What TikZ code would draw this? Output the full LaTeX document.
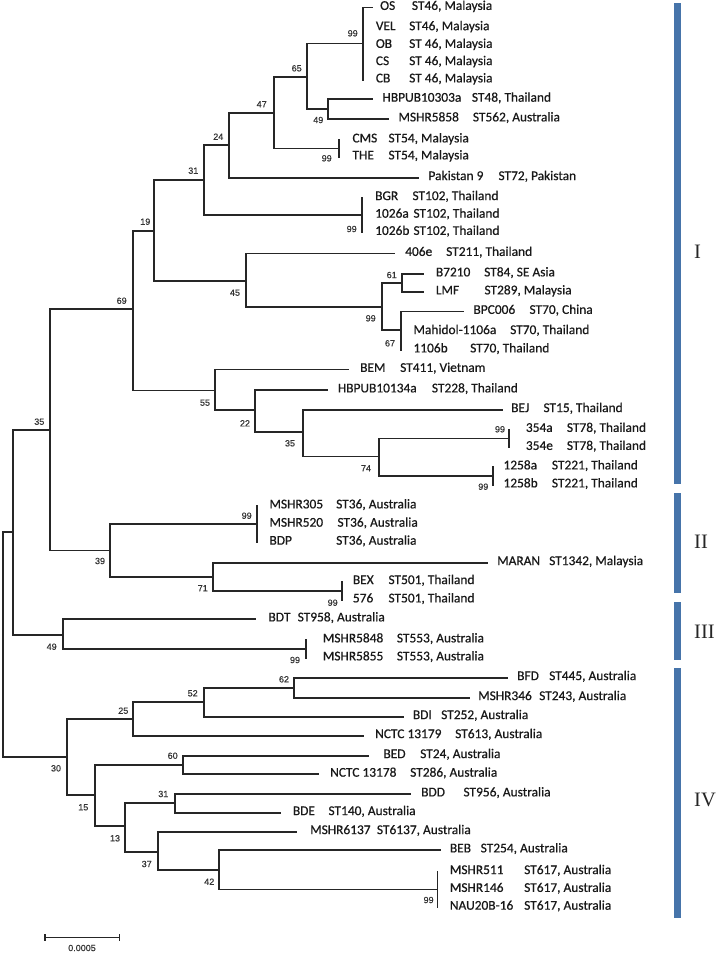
\documentclass[tikz,border=0pt]{standalone}
\usepackage{fontspec}
\setmainfont{Carlito}
\newfontfamily\taxfont{Carlito}[FakeBold=0.6]
\newfontfamily\bsfont{Liberation Sans}[FakeBold=0.5]
\newfontfamily\romfont{Liberation Serif}
\usepackage{xcolor}
\usepackage{tikz}
\definecolor{cladeblue}{RGB}{70,116,170}

\begin{document}
\begin{tikzpicture}[
  x=1pt, y=-1pt,
  branch/.style={line width=1.8pt, draw=black!85, line cap=rect},
  taxon/.style={anchor=mid west, inner sep=0pt, font=\taxfont\fontsize{13.4}{15}\selectfont, text=black!90},
  bootval/.style={inner sep=0pt, font=\bsfont\fontsize{9}{10}\selectfont, text=black!80},
  cladebar/.style={fill=cladeblue},
  cladetag/.style={anchor=west, inner sep=0pt, font=\romfont\fontsize{20.5}{24}\selectfont, text=black!85},
  scalebar/.style={line width=1.3pt, draw=black!85}
]

\useasboundingbox (0,0) rectangle (717,954);

% Inner nodes: x of the vertical bar, y where the parent joins
\coordinate (root) at (2.7,644);
\coordinate (nTop) at (12.7,532);
\coordinate (n35a) at (50,430);
\coordinate (n69) at (133.3,309.3);
\coordinate (n19) at (154.3,230.7);
\coordinate (n31a) at (204,180);
\coordinate (n24) at (229,145);
\coordinate (n47) at (274,112.6);
\coordinate (n65) at (307.3,76.7);
\coordinate (n99os) at (362.7,43.5);
\coordinate (n49a) at (328.3,109.2);
\coordinate (n99cms) at (339.3,148.5);
\coordinate (n99bgr) at (362.3,215.3);
\coordinate (n45) at (246,281);
\coordinate (n99b72) at (381.7,306.7);
\coordinate (n61) at (401.7,283);
\coordinate (n67) at (401,330);
\coordinate (n55) at (215,390.5);
\coordinate (n22) at (255.3,410);
\coordinate (n35b) at (303.3,432);
\coordinate (n74) at (378.7,456.5);
\coordinate (n99d354) at (509.3,438.5);
\coordinate (n99d1258) at (493.3,476);
\coordinate (n39) at (110,550.5);
\coordinate (n99msa) at (256.7,524.3);
\coordinate (n71) at (213.3,577.3);
\coordinate (n99bex) at (341.7,591);
\coordinate (n49b) at (63.3,635);
\coordinate (n99msb) at (306,649);
\coordinate (n30) at (66.7,757);
\coordinate (n25) at (133.3,719);
\coordinate (n52) at (204.3,702);
\coordinate (n62) at (294,688);
\coordinate (n15) at (95,795);
\coordinate (n60) at (182.7,765);
\coordinate (n13) at (125,826);
\coordinate (n31b) at (175,803.3);
\coordinate (n37) at (157.7,851.7);
\coordinate (n42) at (219.3,870);
\coordinate (n99msc) at (437.4,889.5);

% Clade I tips and labels
\coordinate (tOS) at (371.7,7.5);   \node[taxon] (OS) at (380,7.5) {OS};              \node[taxon] (OSst) at (411.7,7.5) {ST46, Malaysia};
\coordinate (tVEL) at (362.7,27.8); \node[taxon] (VEL) at (375.7,27.8) {VEL};         \node[taxon] (VELst) at (409,27.8) {ST46, Malaysia};
\coordinate (tOB) at (362.7,45.5);  \node[taxon] (OB) at (375.7,45.5) {OB};           \node[taxon] (OBst) at (409,45.5) {ST 46, Malaysia};
\coordinate (tCS) at (362.7,62.7);  \node[taxon] (CS) at (375.7,62.7) {CS};           \node[taxon] (CSst) at (409,62.7) {ST 46, Malaysia};
\coordinate (tCB) at (362.7,80);    \node[taxon] (CB) at (375.7,80) {CB};             \node[taxon] (CBst) at (409,80) {ST 46, Malaysia};
\coordinate (tHBa) at (371.7,99.3); \node[taxon] (HBa) at (382.3,99.3) {HBPUB10303a}; \node[taxon] (HBast) at (471.7,99.3) {ST48, Thailand};
\coordinate (tMSa) at (387.7,119);  \node[taxon] (MSa) at (398.3,119) {MSHR5858};     \node[taxon] (MSast) at (472.7,119) {ST562, Australia};
\coordinate (tCMS) at (339.3,140);  \node[taxon] (CMS) at (352.3,140) {CMS};          \node[taxon] (CMSst) at (388.3,140) {ST54, Malaysia};
\coordinate (tTHE) at (339.3,157);  \node[taxon] (THE) at (352.3,157) {THE};          \node[taxon] (THEst) at (388.3,157) {ST54, Malaysia};
\coordinate (tPAK) at (417.7,177.7); \node[taxon] (PAK) at (428.3,177.7) {Pakistan 9}; \node[taxon] (PAKst) at (498.3,177.7) {ST72, Pakistan};
\coordinate (tBGR) at (362.3,197.7); \node[taxon] (BGR) at (375,197.7) {BGR};         \node[taxon] (BGRst) at (412.3,197.7) {ST102, Thailand};
\coordinate (tA26) at (362.3,215.3); \node[taxon] (A26) at (375,215.3) {1026a};       \node[taxon] (A26st) at (413.3,215.3) {ST102, Thailand};
\coordinate (tB26) at (362.3,232.5); \node[taxon] (B26) at (375,232.5) {1026b};       \node[taxon] (B26st) at (413.3,232.5) {ST102, Thailand};
\coordinate (t406) at (394.3,253.5); \node[taxon] (E406) at (405,253.5) {406e};       \node[taxon] (E406st) at (446,253.5) {ST211, Thailand};
\coordinate (tB72) at (423.3,274);  \node[taxon] (B72) at (435.7,274) {B7210};        \node[taxon] (B72st) at (484,274) {ST84, SE Asia};
\coordinate (tLMF) at (423.3,292);  \node[taxon] (LMF) at (435.7,292) {LMF};          \node[taxon] (LMFst) at (484.3,292) {ST289, Malaysia};
\coordinate (tBPC) at (463.3,311.5); \node[taxon] (BPC) at (473.3,311.5) {BPC006};    \node[taxon] (BPCst) at (529.3,311.5) {ST70, China};
\coordinate (tMAH) at (401,331.7);  \node[taxon] (MAH) at (413.3,331.7) {Mahidol-1106a}; \node[taxon] (MAHst) at (510,331.7) {ST70, Thailand};
\coordinate (tB06) at (401,350);    \node[taxon] (B06) at (413.3,350) {1106b};        \node[taxon] (B06st) at (470,350) {ST70, Thailand};
\coordinate (tBEM) at (348.3,369.5); \node[taxon] (BEM) at (360,369.5) {BEM};         \node[taxon] (BEMst) at (400,369.5) {ST411, Vietnam};
\coordinate (tHBb) at (326.7,390);  \node[taxon] (HBb) at (337.7,390) {HBPUB10134a};  \node[taxon] (HBbst) at (431.7,390) {ST228, Thailand};
\coordinate (tBEJ) at (501.7,409.7); \node[taxon] (BEJ) at (511,409.7) {BEJ};         \node[taxon] (BEJst) at (543.3,409.7) {ST15, Thailand};
\coordinate (tA354) at (509.3,429.5); \node[taxon] (A354) at (525.7,429.5) {354a};    \node[taxon] (A354st) at (566.7,429.5) {ST78, Thailand};
\coordinate (tE354) at (509.3,447.5); \node[taxon] (E354) at (525.7,447.5) {354e};    \node[taxon] (E354st) at (566.7,447.5) {ST78, Thailand};
\coordinate (tA1258) at (493.3,467); \node[taxon] (A1258) at (503.3,467) {1258a};     \node[taxon] (A1258st) at (551.7,467) {ST221, Thailand};
\coordinate (tB1258) at (493.3,485); \node[taxon] (B1258) at (503.3,485) {1258b};     \node[taxon] (B1258st) at (551.7,485) {ST221, Thailand};

% Clade II tips and labels
\coordinate (tM305) at (256.7,506);   \node[taxon] (M305) at (269.3,506) {MSHR305};   \node[taxon] (M305st) at (336,506) {ST36, Australia};
\coordinate (tM520) at (256.7,524.3); \node[taxon] (M520) at (269.3,524.3) {MSHR520}; \node[taxon] (M520st) at (337.3,524.3) {ST36, Australia};
\coordinate (tBDP) at (256.7,542.3);  \node[taxon] (BDP) at (269.3,542.3) {BDP};      \node[taxon] (BDPst) at (336,542.3) {ST36, Australia};
\coordinate (tMAR) at (487,562.7);    \node[taxon] (MAR) at (497,562.7) {MARAN};      \node[taxon] (MARst) at (549,562.7) {ST1342, Malaysia};
\coordinate (tBEX) at (341.7,581.7);  \node[taxon] (BEX) at (352.7,581.7) {BEX};      \node[taxon] (BEXst) at (388.3,581.7) {ST501, Thailand};
\coordinate (t576) at (341.7,600);    \node[taxon] (S576) at (352.7,600) {576};       \node[taxon] (S576st) at (388.3,600) {ST501, Thailand};

% Clade III tips and labels
\coordinate (tBDT) at (255,619);      \node[taxon] (BDT) at (268.3,619) {BDT};        \node[taxon] (BDTst) at (297.5,619) {ST958, Australia};
\coordinate (tM5848) at (306,640);    \node[taxon] (M5848) at (322.7,640) {MSHR5848}; \node[taxon] (M5848st) at (396.7,640) {ST553, Australia};
\coordinate (tM5855) at (306,658);    \node[taxon] (M5855) at (322.7,658) {MSHR5855}; \node[taxon] (M5855st) at (396.7,658) {ST553, Australia};

% Clade IV tips and labels
\coordinate (tBFD) at (507,677.7);    \node[taxon] (BFD) at (517,677.7) {BFD};        \node[taxon] (BFDst) at (549,677.7) {ST445, Australia};
\coordinate (tM346) at (469,697.7);   \node[taxon] (M346) at (478,697.7) {MSHR346};   \node[taxon] (M346st) at (539,697.7) {ST243, Australia};
\coordinate (tBDI) at (402.7,716.7);  \node[taxon] (BDI) at (412.7,716.7) {BDI};      \node[taxon] (BDIst) at (441,716.7) {ST252, Australia};
\coordinate (tN79) at (363.3,735.7);  \node[taxon] (N79) at (375,735.7) {NCTC 13179}; \node[taxon] (N79st) at (455,735.7) {ST613, Australia};
\coordinate (tBED) at (368.3,755.7);  \node[taxon] (BED) at (383.3,755.7) {BED};      \node[taxon] (BEDst) at (420,755.7) {ST24, Australia};
\coordinate (tN78) at (318.3,774.3);  \node[taxon] (N78) at (330,774.3) {NCTC 13178}; \node[taxon] (N78st) at (410,774.3) {ST286, Australia};
\coordinate (tBDD) at (410,794);      \node[taxon] (BDD) at (421,794) {BDD};          \node[taxon] (BDDst) at (463.3,794) {ST956, Australia};
\coordinate (tBDE) at (280,812.7);    \node[taxon] (BDE) at (292.7,812.7) {BDE};      \node[taxon] (BDEst) at (328.3,812.7) {ST140, Australia};
\coordinate (tM6137) at (296,831.7);  \node[taxon] (M6137) at (310,831.7) {MSHR6137}; \node[taxon] (M6137st) at (376.7,831.7) {ST6137, Australia};
\coordinate (tBEB) at (440,850);      \node[taxon] (BEB) at (449.7,850) {BEB};        \node[taxon] (BEBst) at (480.5,850) {ST254, Australia};
\coordinate (tM511) at (437.4,871.7); \node[taxon] (M511) at (449.7,871.7) {MSHR511}; \node[taxon] (M511st) at (524,871.7) {ST617, Australia};
\coordinate (tM146) at (437.4,889.5); \node[taxon] (M146) at (449.7,889.5) {MSHR146}; \node[taxon] (M146st) at (524,889.5) {ST617, Australia};
\coordinate (tNAU) at (437.4,907.3);  \node[taxon] (NAU) at (449.7,907.3) {NAU20B-16}; \node[taxon] (NAUst) at (524,907.3) {ST617, Australia};

% Branches, parent to child
\draw[branch] (root) |- (nTop);   \draw[branch] (root) |- (n30);
\draw[branch] (nTop) |- (n35a);   \draw[branch] (nTop) |- (n49b);
\draw[branch] (n35a) |- (n69);    \draw[branch] (n35a) |- (n39);
\draw[branch] (n69) |- (n19);     \draw[branch] (n69) |- (n55);
\draw[branch] (n19) |- (n31a);    \draw[branch] (n19) |- (n45);
\draw[branch] (n31a) |- (n24);    \draw[branch] (n31a) |- (n99bgr);
\draw[branch] (n24) |- (n47);     \draw[branch] (n24) |- (tPAK);
\draw[branch] (n47) |- (n65);     \draw[branch] (n47) |- (n99cms);
\draw[branch] (n65) |- (n99os);   \draw[branch] (n65) |- (n49a);
\draw[branch] (n99os) |- (tOS);   \draw[branch] (n99os) |- (tCB);
\draw[branch] (n49a) |- (tHBa);   \draw[branch] (n49a) |- (tMSa);
\draw[branch] (n99cms) |- (tCMS); \draw[branch] (n99cms) |- (tTHE);
\draw[branch] (n99bgr) |- (tBGR); \draw[branch] (n99bgr) |- (tB26);
\draw[branch] (n45) |- (t406);    \draw[branch] (n45) |- (n99b72);
\draw[branch] (n99b72) |- (n61);  \draw[branch] (n99b72) |- (n67);
\draw[branch] (n61) |- (tB72);    \draw[branch] (n61) |- (tLMF);
\draw[branch] (n67) |- (tBPC);    \draw[branch] (n67) |- (tB06);
\draw[branch] (n55) |- (tBEM);    \draw[branch] (n55) |- (n22);
\draw[branch] (n22) |- (tHBb);    \draw[branch] (n22) |- (n35b);
\draw[branch] (n35b) |- (tBEJ);   \draw[branch] (n35b) |- (n74);
\draw[branch] (n74) |- (n99d354); \draw[branch] (n74) |- (n99d1258);
\draw[branch] (n99d354) |- (tA354);   \draw[branch] (n99d354) |- (tE354);
\draw[branch] (n99d1258) |- (tA1258); \draw[branch] (n99d1258) |- (tB1258);
\draw[branch] (n39) |- (n99msa);  \draw[branch] (n39) |- (n71);
\draw[branch] (n99msa) |- (tM305); \draw[branch] (n99msa) |- (tBDP);
\draw[branch] (n71) |- (tMAR);    \draw[branch] (n71) |- (n99bex);
\draw[branch] (n99bex) |- (tBEX); \draw[branch] (n99bex) |- (t576);
\draw[branch] (n49b) |- (tBDT);   \draw[branch] (n49b) |- (n99msb);
\draw[branch] (n99msb) |- (tM5848); \draw[branch] (n99msb) |- (tM5855);
\draw[branch] (n30) |- (n25);     \draw[branch] (n30) |- (n15);
\draw[branch] (n25) |- (n52);     \draw[branch] (n25) |- (tN79);
\draw[branch] (n52) |- (n62);     \draw[branch] (n52) |- (tBDI);
\draw[branch] (n62) |- (tBFD);    \draw[branch] (n62) |- (tM346);
\draw[branch] (n15) |- (n60);     \draw[branch] (n15) |- (n13);
\draw[branch] (n60) |- (tBED);    \draw[branch] (n60) |- (tN78);
\draw[branch] (n13) |- (n31b);    \draw[branch] (n13) |- (n37);
\draw[branch] (n31b) |- (tBDD);   \draw[branch] (n31b) |- (tBDE);
\draw[branch] (n37) |- (tM6137);  \draw[branch] (n37) |- (n42);
\draw[branch] (n42) |- (tBEB);    \draw[branch] (n42) |- (n99msc);
\draw[branch] (n99msc) |- (tM511); \draw[branch] (n99msc) |- (tNAU);

% Bootstrap values
\node[bootval] (b99os) at (352.7,33.3) {99};
\node[bootval] (b65) at (296.7,68.3) {65};
\node[bootval] (b47) at (261.7,104.3) {47};
\node[bootval] (b49a) at (318.3,120) {49};
\node[bootval] (b24) at (218.3,136.7) {24};
\node[bootval] (b99cms) at (326.7,158.3) {99};
\node[bootval] (b31a) at (193.3,170.7) {31};
\node[bootval] (b99bgr) at (351.7,229) {99};
\node[bootval] (b19) at (145.3,221.7) {19};
\node[bootval] (b45) at (235,292.7) {45};
\node[bootval] (b61) at (391.7,275) {61};
\node[bootval] (b99b72) at (370.7,318.3) {99};
\node[bootval] (b67) at (390,343.3) {67};
\node[bootval] (b69) at (121.7,300.7) {69};
\node[bootval] (b55) at (205,402.7) {55};
\node[bootval] (b22) at (245,423.3) {22};
\node[bootval] (b35b) at (290,443.3) {35};
\node[bootval] (b74) at (366,468.3) {74};
\node[bootval] (b99d354) at (500,429.3) {99};
\node[bootval] (b99d1258) at (483.3,486.7) {99};
\node[bootval] (b35a) at (39.3,421.7) {35};
\node[bootval] (b99msa) at (246.7,515.7) {99};
\node[bootval] (b39) at (100,561) {39};
\node[bootval] (b71) at (202.7,588.3) {71};
\node[bootval] (b99bex) at (332.7,602.7) {99};
\node[bootval] (b49b) at (51.7,646.7) {49};
\node[bootval] (b99msb) at (295,660) {99};
\node[bootval] (b62) at (284,679.3) {62};
\node[bootval] (b52) at (192.7,693.3) {52};
\node[bootval] (b25) at (123.3,710.7) {25};
\node[bootval] (b30) at (56,768.3) {30};
\node[bootval] (b60) at (172.7,755.7) {60};
\node[bootval] (b31b) at (163.3,794) {31};
\node[bootval] (b15) at (83.3,807.3) {15};
\node[bootval] (b13) at (115,838.3) {13};
\node[bootval] (b37) at (146.7,864) {37};
\node[bootval] (b42) at (209.3,881.7) {42};
\node[bootval] (b99msc) at (428.6,900) {99};

% Clade bars and their numerals
\fill[cladebar] (673.5,3) rectangle (680.5,484);
\fill[cladebar] (673.5,493) rectangle (680.5,593);
\fill[cladebar] (673.5,602) rectangle (680.5,660);
\fill[cladebar] (673.5,668) rectangle (680.5,918);
\node[cladetag] (cI) at (694,252) {I};
\node[cladetag] (cII) at (694,541.7) {II};
\node[cladetag] (cIII) at (694,631.7) {III};
\node[cladetag] (cIV) at (694,800) {IV};

% Scale bar
\coordinate (sbL) at (45,937.7);
\coordinate (sbR) at (119.3,937.7);
\draw[scalebar] (sbL) -- (sbR);
\draw[scalebar] ([yshift=3.5pt]sbL) -- ([yshift=-3.5pt]sbL);
\draw[scalebar] ([yshift=3.5pt]sbR) -- ([yshift=-3.5pt]sbR);
\node[bootval, font=\bsfont\fontsize{9}{10}\selectfont] (sbtext) at (82,948) {0.0005};

\end{tikzpicture}
\end{document}
